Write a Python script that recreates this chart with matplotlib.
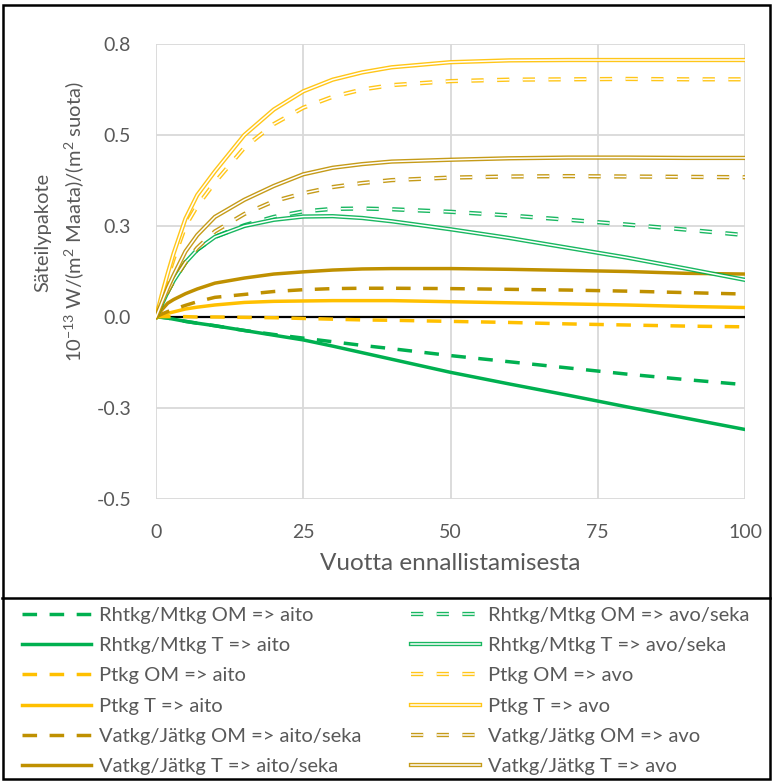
import numpy as np
import matplotlib
matplotlib.use("Agg")
import matplotlib.pyplot as plt
from matplotlib.lines import Line2D
from matplotlib.patches import Rectangle

plt.rcParams['font.family'] = ['Lato', 'DejaVu Sans']
plt.rcParams['mathtext.fontset'] = 'custom'
plt.rcParams['mathtext.rm'] = 'Lato'
plt.rcParams['mathtext.default'] = 'regular'
plt.rcParams['lines.scale_dashes'] = False

# years after restoration
years = [0, 1, 2, 3, 5, 7, 10, 15, 20, 25, 30, 35, 40, 50, 60, 70, 80, 90, 100]

# single-line series (=> aito / aito/seka)
rhtkg_om_aito = [0, -0.001, -0.003, -0.006, -0.012, -0.017, -0.024, -0.037, -0.048, -0.058, -0.068, -0.078, -0.087, -0.106, -0.123, -0.140, -0.157, -0.172, -0.186]
rhtkg_t_aito = [0, -0.001, -0.003, -0.006, -0.012, -0.017, -0.024, -0.037, -0.050, -0.063, -0.080, -0.098, -0.116, -0.152, -0.184, -0.215, -0.247, -0.278, -0.309]
ptkg_om_aito = [0, 0.001, 0.001, 0.001, 0.001, 0.0, 0.0, -0.001, -0.002, -0.004, -0.006, -0.008, -0.009, -0.012, -0.015, -0.019, -0.022, -0.025, -0.027]
ptkg_t_aito = [0, 0.005, 0.010, 0.014, 0.022, 0.027, 0.033, 0.040, 0.043, 0.044, 0.045, 0.045, 0.045, 0.042, 0.039, 0.036, 0.033, 0.029, 0.026]
vatkg_om_aito = [0, 0.008, 0.015, 0.021, 0.032, 0.042, 0.054, 0.062, 0.070, 0.075, 0.078, 0.079, 0.079, 0.078, 0.076, 0.074, 0.071, 0.067, 0.063]
vatkg_t_aito = [0, 0.020, 0.038, 0.048, 0.064, 0.077, 0.093, 0.107, 0.118, 0.124, 0.129, 0.132, 0.133, 0.133, 0.131, 0.128, 0.125, 0.120, 0.118]

# double-line series (=> avo / avo/seka)
rhtkg_om_avo = [0, 0.035, 0.070, 0.100, 0.150, 0.185, 0.220, 0.252, 0.275, 0.290, 0.297, 0.298, 0.296, 0.289, 0.279, 0.267, 0.254, 0.240, 0.225]
rhtkg_t_avo = [0, 0.035, 0.070, 0.100, 0.150, 0.185, 0.220, 0.250, 0.267, 0.276, 0.277, 0.272, 0.263, 0.241, 0.217, 0.190, 0.163, 0.133, 0.102]
ptkg_om_avo = [0, 0.055, 0.110, 0.160, 0.250, 0.305, 0.370, 0.465, 0.530, 0.575, 0.605, 0.625, 0.637, 0.648, 0.652, 0.653, 0.654, 0.653, 0.653]
ptkg_t_avo = [0, 0.062, 0.120, 0.175, 0.270, 0.335, 0.400, 0.500, 0.570, 0.620, 0.652, 0.672, 0.686, 0.700, 0.705, 0.706, 0.706, 0.706, 0.706]
vatkg_om_avo = [0, 0.035, 0.070, 0.100, 0.150, 0.190, 0.235, 0.283, 0.318, 0.340, 0.357, 0.368, 0.376, 0.383, 0.386, 0.387, 0.386, 0.385, 0.384]
vatkg_t_avo = [0, 0.040, 0.080, 0.115, 0.180, 0.225, 0.275, 0.322, 0.360, 0.392, 0.410, 0.420, 0.427, 0.432, 0.436, 0.438, 0.438, 0.437, 0.437]

zero_line = [0] * len(years)

y_ticks = [-0.5, -0.25, 0, 0.25, 0.5, 0.75]
y_tick_labels = ['-0.5', '-0.3', '0.0', '0.3', '0.5', '0.8']
x_ticks = [0, 25, 50, 75, 100]

green = '#00B050'
yellow = '#FFC000'
gold = '#BF9000'
gray_txt = '#595959'

DASH_S = (0, (10.5, 9))   # single dashed (points)
DASH_D = (0, (8.8, 9.7))  # double dashed (points)

fig = plt.figure(figsize=(7.72, 7.81), dpi=100)
ax = fig.add_axes([156 / 772, 1 - 499 / 781, (745 - 156) / 772, (499 - 44) / 781])

ax.plot(years, zero_line, color='black', lw=1.6, zorder=2)


def single(y, color, dashed, label):
    ls = DASH_S if dashed else '-'
    ax.plot(years, y, color=color, lw=2.5, ls=ls, zorder=3)
    return Line2D([], [], color=color, lw=2.5, ls=ls), label


def double(y, color, dashed, label):
    ls = DASH_D if dashed else '-'
    ax.plot(years, y, color=color, lw=3.1, ls=ls, zorder=3, alpha=0.9)
    ax.plot(years, y, color='white', lw=1.1, ls=ls, zorder=3)
    h = (Line2D([], [], color=color, lw=3.1, ls=ls, alpha=0.9),
         Line2D([], [], color='white', lw=1.1, ls=ls))
    return h, label


col1 = [
    single(rhtkg_om_aito, green, True, 'Rhtkg/Mtkg OM => aito'),
    single(rhtkg_t_aito, green, False, 'Rhtkg/Mtkg T => aito'),
    single(ptkg_om_aito, yellow, True, 'Ptkg OM => aito'),
    single(ptkg_t_aito, yellow, False, 'Ptkg T => aito'),
    single(vatkg_om_aito, gold, True, 'Vatkg/Jätkg OM => aito/seka'),
    single(vatkg_t_aito, gold, False, 'Vatkg/Jätkg T => aito/seka'),
]
col2 = [
    double(rhtkg_om_avo, green, True, 'Rhtkg/Mtkg OM => avo/seka'),
    double(rhtkg_t_avo, green, False, 'Rhtkg/Mtkg T => avo/seka'),
    double(ptkg_om_avo, yellow, True, 'Ptkg OM => avo'),
    double(ptkg_t_avo, yellow, False, 'Ptkg T => avo'),
    double(vatkg_om_avo, gold, True, 'Vatkg/Jätkg OM => avo'),
    double(vatkg_t_avo, gold, False, 'Vatkg/Jätkg T => avo'),
]

ax.set_xlim(0, 100)
ax.set_ylim(-0.5, 0.75)
ax.set_xticks(x_ticks)
ax.set_yticks(y_ticks)
ax.set_yticklabels(y_tick_labels)
ax.grid(True, color='#D9D9D9', lw=1.3)
ax.set_axisbelow(True)
for s in ax.spines.values():
    s.set_visible(False)
ax.tick_params(length=0, labelsize=14, colors=gray_txt)
ax.tick_params(axis='y', pad=18)
ax.tick_params(axis='x', pad=18)
ax.set_xlabel('Vuotta ennallistamisesta', fontsize=17.5, color=gray_txt, labelpad=9)

fig.text(43 / 772, 1 - 232 / 781, 'Säteilypakote', rotation=90, ha='center', va='center',
         fontsize=14.5, color=gray_txt)
fig.text(74 / 772, 1 - 222 / 781, r'10$^{-13}$ W/(m$^{2}$ Maata)/(m$^{2}$ suota)', rotation=90,
         ha='center', va='center', fontsize=14.5, color=gray_txt)

handles = [h for h, _ in col1 + col2]
labels = [l for _, l in col1 + col2]
fig.legend(handles, labels, ncol=2, loc='upper left', bbox_to_anchor=(22 / 772, 1 - 607 / 781),
           frameon=False, fontsize=14.5, labelcolor=gray_txt, handlelength=3.43, handletextpad=0.41,
           columnspacing=2.45, labelspacing=0.65, borderaxespad=0, borderpad=0)

# chart frame and separator above the legend
fig.patches.append(Rectangle((2.5 / 772, 2.5 / 781), 767 / 772, 774 / 781, transform=fig.transFigure,
                             fill=False, ec='black', lw=1.8))
fig.lines.append(Line2D([2 / 772, 770 / 772], [1 - 598 / 781, 1 - 598 / 781], transform=fig.transFigure,
                        color='black', lw=1.8))

fig.savefig('out.png', dpi=100)
